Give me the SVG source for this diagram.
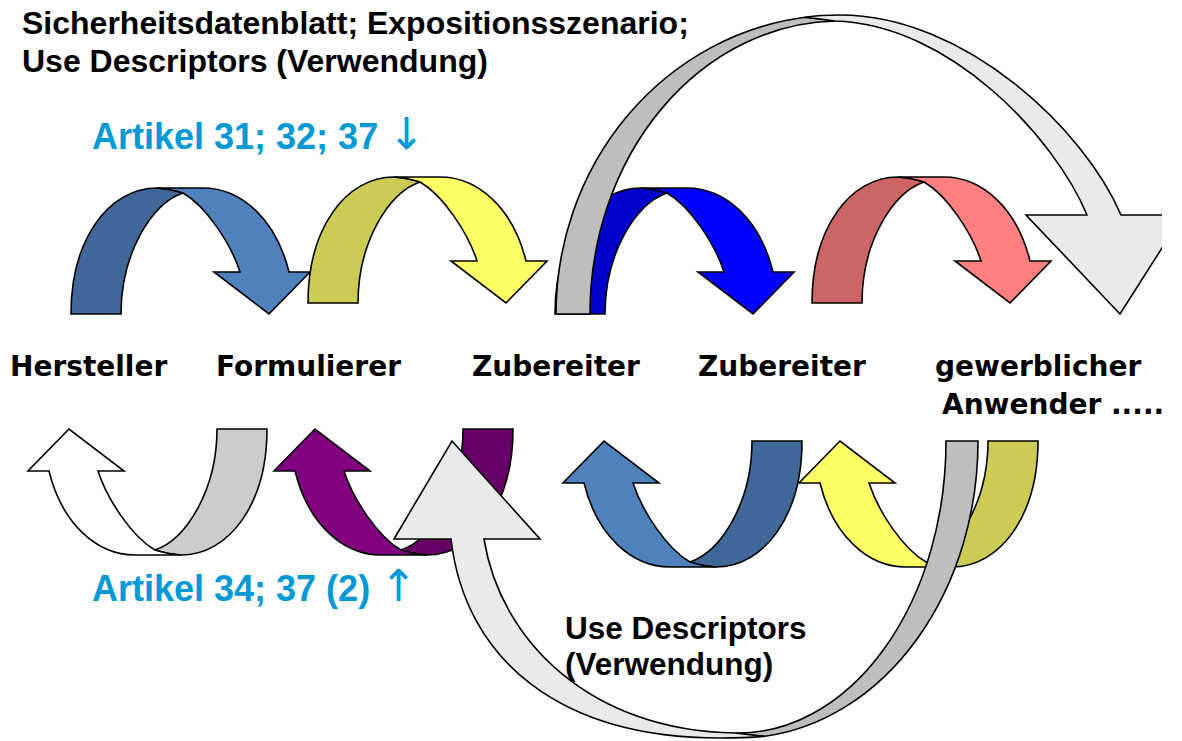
<svg xmlns="http://www.w3.org/2000/svg" width="1182" height="741" viewBox="0 0 1182 741">
  <style>
    .ln { stroke: #000; stroke-width: 1.6; stroke-linejoin: miter; }
    .hdr { font-family: "Liberation Sans", Arial, sans-serif; font-weight: bold; font-size: 32px; fill: #000; }
    .art { font-family: "Liberation Sans", Arial, sans-serif; font-weight: bold; font-size: 36px; fill: #0099D5; }
    .sym { font-family: "DejaVu Sans", sans-serif; font-weight: normal; font-size: 44px; }
    .node { font-family: "DejaVu Sans", Verdana, sans-serif; font-weight: bold; font-size: 28px; fill: #000; }
    .ud { font-family: "Liberation Sans", Arial, sans-serif; font-weight: bold; font-size: 31.5px; fill: #000; }
  </style>
  <defs>
    <!-- curved ribbon arrow: foot at (0,0), head on the right pointing down -->
    <path id="back" d="M0,0 C0,-75 38,-126 86,-126 Q100,-125 112,-121 C80,-110 50,-60 50,0 Z"/>
    <path id="front" d="M86,-126 L132,-126 C170,-126 205,-95 218,-42 L239,-42 L198,0 L143,-42 L169,-42 C160,-70 135,-108 112,-121 Q100,-125 86,-126 Z"/>
    <clipPath id="pageClip"><rect x="0" y="0" width="1162" height="741"/></clipPath>
  </defs>

  <!-- upper row: flow downstream -->
  <g id="arrow-hersteller-formulierer" transform="translate(71,314)">
    <use href="#back" class="ln" fill="#3F6899"/>
    <use href="#front" class="ln" fill="#4F81BD"/>
  </g>
  <g id="arrow-formulierer-zubereiter" transform="translate(308,303)">
    <use href="#back" class="ln" fill="#CCCC55"/>
    <use href="#front" class="ln" fill="#FFFF66"/>
  </g>
  <g id="arrow-zubereiter-zubereiter" transform="translate(555,314)">
    <use href="#back" class="ln" fill="#0000CC"/>
    <use href="#front" class="ln" fill="#0000FF"/>
  </g>
  <g id="arrow-zubereiter-anwender" transform="translate(812,303)">
    <use href="#back" class="ln" fill="#CC6666"/>
    <use href="#front" class="ln" fill="#FF8080"/>
  </g>

  <!-- large arc over the upper row -->
  <g id="arc-top" clip-path="url(#pageClip)">
    <path class="ln" fill="#BEBEBE" d="M556,314 A284,299 0 0 1 805,17.3 Q820,19 835,21 A250,293 0 0 0 590,314 Z"/>
    <path class="ln" fill="#EAEAEA" d="M805,17.3 Q820,15 840,15 C965,15 1085,130 1121,215 L1183,215 L1120,314 L1026,215 L1087,215 C1055,138 950,24 835,21 Q820,19 805,17.3 Z"/>
  </g>

  <!-- lower row: information flowing back upstream -->
  <g id="arrow-formulierer-hersteller" transform="translate(267,429) rotate(180)">
    <use href="#back" class="ln" fill="#CCCCCC"/>
    <use href="#front" class="ln" fill="#FFFFFF"/>
  </g>
  <g id="arrow-zubereiter-formulierer" transform="translate(513,429) rotate(180)">
    <use href="#back" class="ln" fill="#660066"/>
    <use href="#front" class="ln" fill="#800080"/>
  </g>
  <g id="arrow-zubereiter2-zubereiter" transform="translate(802,441) rotate(180)">
    <use href="#back" class="ln" fill="#3F6899"/>
    <use href="#front" class="ln" fill="#4F81BD"/>
  </g>
  <g id="arrow-anwender-zubereiter" transform="translate(1038,441) rotate(180)">
    <use href="#back" class="ln" fill="#CCCC55"/>
    <use href="#front" class="ln" fill="#FFFF66"/>
  </g>

  <!-- large arc under the lower row -->
  <g id="arc-bottom">
    <path class="ln" fill="#BEBEBE" d="M978,441 A240,297 0 0 1 765,736.3 Q750,735 735,733 A208,292 0 0 0 946,441 Z"/>
    <path class="ln" fill="#EAEAEA" d="M765,736.3 Q745,738 720,738 C560,738 465,660 451,539 L394,539 L452,441 L540,539 L484,539 C500,640 590,731 735,733 Q750,735 765,736.3 Z"/>
  </g>

  <!-- labels -->
  <g id="labels">
    <text class="hdr" x="22" y="34">Sicherheitsdatenblatt; Expositionsszenario;</text>
    <text class="hdr" x="22" y="72">Use Descriptors (Verwendung)</text>
    <text class="art" x="92" y="149">Artikel 31; 32; 37 <tspan class="sym">↓</tspan></text>
    <text class="art" x="92" y="601">Artikel 34; 37 (2) <tspan class="sym">↑</tspan></text>
    <text class="ud" x="565" y="639">Use Descriptors</text>
    <text class="ud" x="565" y="675">(Verwendung)</text>
  </g>
  <g id="node-hersteller"><text class="node" x="10" y="376">Hersteller</text></g>
  <g id="node-formulierer"><text class="node" x="216" y="376">Formulierer</text></g>
  <g id="node-zubereiter-1"><text class="node" x="472" y="376">Zubereiter</text></g>
  <g id="node-zubereiter-2"><text class="node" x="698" y="376">Zubereiter</text></g>
  <g id="node-anwender">
    <text class="node" x="935" y="376">gewerblicher</text>
    <text class="node" x="942" y="414">Anwender .....</text>
  </g>
</svg>
